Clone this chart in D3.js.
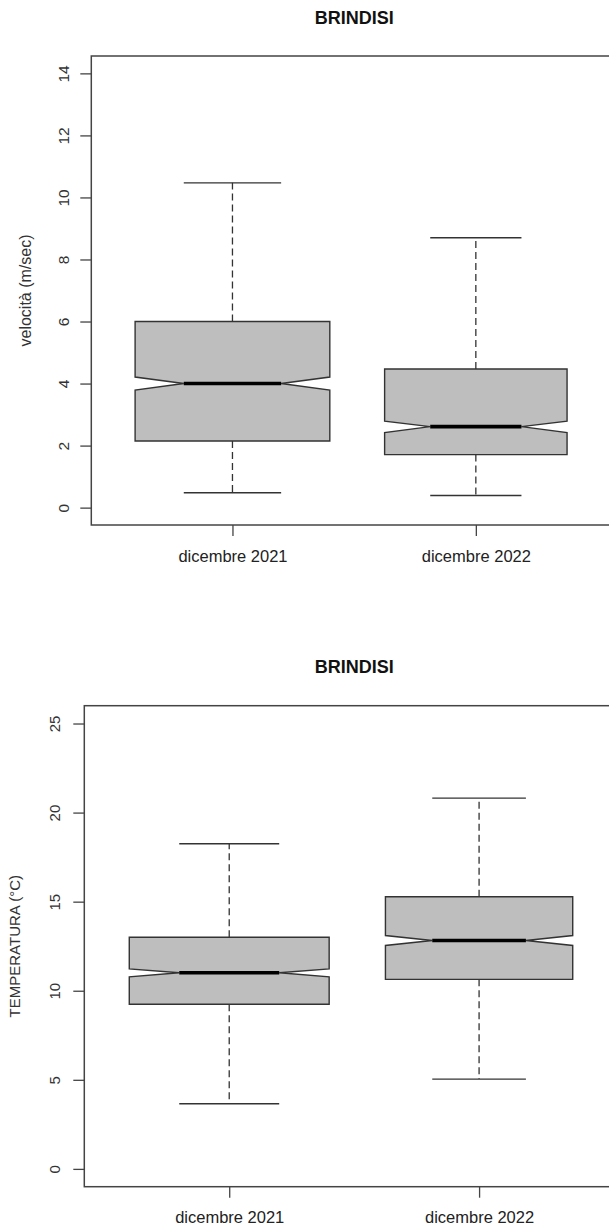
<!DOCTYPE html>
<html>
<head>
<meta charset="utf-8">
<script src="https://cdn.jsdelivr.net/npm/d3@7"></script>
<style>
  html, body { margin: 0; padding: 0; background: #fff; }
  svg { display: block; font-family: "Liberation Sans", Arial, sans-serif; }
</style>
</head>
<body>
<svg id="chart" width="609" height="1227"></svg>
<script>
// ---------- DATA ----------
const categories = ["dicembre 2021", "dicembre 2022"];

// Panel 1: wind speed (m/sec)
const windTitle = "BRINDISI";
const windYLabel = "velocità (m/sec)";
const windWhiskerLow  = [0.48, 0.39];
const windQ1          = [2.15, 1.71];
const windNotchLow    = [3.79, 2.42];
const windMedian      = [4.00, 2.61];
const windNotchHigh   = [4.21, 2.79];
const windQ3          = [6.00, 4.47];
const windWhiskerHigh = [10.47, 8.70];
const windTicks = [0, 2, 4, 6, 8, 10, 12, 14];
const windYLim = [0, 14];

// Panel 2: temperature (°C)
const tempTitle = "BRINDISI";
const tempYLabel = "TEMPERATURA (°C)";
const tempWhiskerLow  = [3.66, 5.04];
const tempQ1          = [9.24, 10.64];
const tempNotchLow    = [10.78, 12.54];
const tempMedian      = [11.01, 12.82];
const tempNotchHigh   = [11.23, 13.10];
const tempQ3          = [13.00, 15.28];
const tempWhiskerHigh = [18.25, 20.81];
const tempTicks = [0, 5, 10, 15, 20, 25];
const tempYLim = [0, 25];

// relative box widths (varwidth)
const boxWidthFrac = [1, 0.937];

// ---------- DRAW ----------
const svg = d3.select("#chart");

function buildStats(lo, q1, nl, med, nh, q3, hi) {
  return categories.map((c, i) => ({
    cat: c, idx: i + 1,
    lo: lo[i], q1: q1[i], nl: nl[i], med: med[i], nh: nh[i], q3: q3[i], hi: hi[i],
    wf: boxWidthFrac[i]
  }));
}

function drawPanel(cfg) {
  const g = svg.append("g");
  const ext = (cfg.ylim[1] - cfg.ylim[0]) * 0.04;
  const y = d3.scaleLinear()
    .domain([cfg.ylim[0] - ext, cfg.ylim[1] + ext])
    .range([cfg.bottom, cfg.top]);
  const x = d3.scaleLinear()
    .domain([0.42, categories.length + 0.58])
    .range([cfg.left, cfg.right]);
  const unit = x(2) - x(1);

  // title
  g.append("text")
    .attr("x", (cfg.left + cfg.right) / 2)
    .attr("y", cfg.titleY)
    .attr("text-anchor", "middle")
    .attr("dominant-baseline", "central")
    .attr("font-size", cfg.titleSize)
    .attr("font-weight", "bold")
    .attr("fill", "#111")
    .text(cfg.title);

  const data = cfg.stats;

  // whiskers (dashed)
  g.selectAll(".wup").data(data).join("line")
    .attr("x1", d => x(d.idx)).attr("x2", d => x(d.idx))
    .attr("y1", d => y(d.q3)).attr("y2", d => y(d.hi))
    .attr("stroke", "#333").attr("stroke-width", 1.3)
    .attr("stroke-dasharray", "7,4");
  g.selectAll(".wdn").data(data).join("line")
    .attr("x1", d => x(d.idx)).attr("x2", d => x(d.idx))
    .attr("y1", d => y(d.q1)).attr("y2", d => y(d.lo))
    .attr("stroke", "#333").attr("stroke-width", 1.3)
    .attr("stroke-dasharray", "7,4");

  // staples
  ["hi", "lo"].forEach(k => {
    g.selectAll(".st" + k).data(data).join("line")
      .attr("x1", d => x(d.idx) - 0.2 * unit * d.wf)
      .attr("x2", d => x(d.idx) + 0.2 * unit * d.wf)
      .attr("y1", d => y(d[k])).attr("y2", d => y(d[k]))
      .attr("stroke", "#333").attr("stroke-width", 1.4);
  });

  // notched boxes
  g.selectAll(".box").data(data).join("path")
    .attr("d", d => {
      const hw = 0.4 * unit * d.wf;
      const cx = x(d.idx);
      const pts = [
        [cx - hw, y(d.q1)], [cx + hw, y(d.q1)], [cx + hw, y(d.nl)],
        [cx + hw * 0.5, y(d.med)], [cx + hw, y(d.nh)], [cx + hw, y(d.q3)],
        [cx - hw, y(d.q3)], [cx - hw, y(d.nh)], [cx - hw * 0.5, y(d.med)],
        [cx - hw, y(d.nl)]
      ];
      return d3.line()(pts) + "Z";
    })
    .attr("fill", "#bebebe")
    .attr("stroke", "#333")
    .attr("stroke-width", 1.4)
    .attr("stroke-linejoin", "miter");

  // medians
  g.selectAll(".med").data(data).join("line")
    .attr("x1", d => x(d.idx) - 0.2 * unit * d.wf)
    .attr("x2", d => x(d.idx) + 0.2 * unit * d.wf)
    .attr("y1", d => y(d.med)).attr("y2", d => y(d.med))
    .attr("stroke", "#000").attr("stroke-width", 3.6);

  // frame
  g.append("rect")
    .attr("x", cfg.left).attr("y", cfg.top)
    .attr("width", cfg.right - cfg.left).attr("height", cfg.bottom - cfg.top)
    .attr("fill", "none").attr("stroke", "#444").attr("stroke-width", 1.5);

  // y axis
  const yAxis = d3.axisLeft(y).tickValues(cfg.ticks).tickSize(cfg.tickLen).tickPadding(0).tickFormat(d3.format("d"));
  const ya = g.append("g").attr("transform", `translate(${cfg.left},0)`).call(yAxis);
  ya.select(".domain").remove();
  ya.selectAll(".tick line").attr("stroke", "#444").attr("stroke-width", 1.3);
  ya.selectAll(".tick text")
    .attr("x", null).attr("dy", null)
    .attr("transform", `translate(${cfg.tickLabelX - cfg.left},0) rotate(-90)`)
    .attr("text-anchor", "middle")
    .attr("dominant-baseline", "central")
    .attr("font-size", cfg.yTickSize)
    .attr("font-family", "Liberation Sans, Arial, sans-serif")
    .attr("fill", "#333");

  // x axis
  const xAxis = d3.axisBottom(x).tickValues(data.map(d => d.idx)).tickSize(cfg.tickLen).tickPadding(0)
    .tickFormat(v => categories[v - 1]);
  const xa = g.append("g").attr("transform", `translate(0,${cfg.bottom})`).call(xAxis);
  xa.select(".domain").remove();
  xa.selectAll(".tick line").attr("stroke", "#444").attr("stroke-width", 1.3);
  xa.selectAll(".tick text")
    .attr("y", cfg.xLabelY - cfg.bottom).attr("dy", null)
    .attr("dominant-baseline", "central")
    .attr("font-size", cfg.xTickSize)
    .attr("font-family", "Liberation Sans, Arial, sans-serif")
    .attr("fill", "#222");

  // y title
  g.append("text")
    .attr("transform", `translate(${cfg.yTitleX},${(cfg.top + cfg.bottom) / 2}) rotate(-90)`)
    .attr("text-anchor", "middle")
    .attr("dominant-baseline", "central")
    .attr("font-size", cfg.yTitleSize)
    .attr("fill", "#333")
    .text(cfg.ylabel);
}

drawPanel({
  title: windTitle, ylabel: windYLabel,
  stats: buildStats(windWhiskerLow, windQ1, windNotchLow, windMedian, windNotchHigh, windQ3, windWhiskerHigh),
  ticks: windTicks, ylim: windYLim,
  left: 91.3, right: 617, top: 56, bottom: 525,
  titleY: 18, titleSize: 18, tickLen: 11, tickLabelX: 63, yTitleX: 25,
  xLabelY: 556, yTickSize: 15.5, xTickSize: 16.5, yTitleSize: 16
});

drawPanel({
  title: tempTitle, ylabel: tempYLabel,
  stats: buildStats(tempWhiskerLow, tempQ1, tempNotchLow, tempMedian, tempNotchHigh, tempQ3, tempWhiskerHigh),
  ticks: tempTicks, ylim: tempYLim,
  left: 84.3, right: 624, top: 705.7, bottom: 1186.7,
  titleY: 667, titleSize: 18, tickLen: 11, tickLabelX: 54, yTitleX: 14,
  xLabelY: 1217, yTickSize: 15, xTickSize: 16.5, yTitleSize: 15
});
</script>
</body>
</html>
